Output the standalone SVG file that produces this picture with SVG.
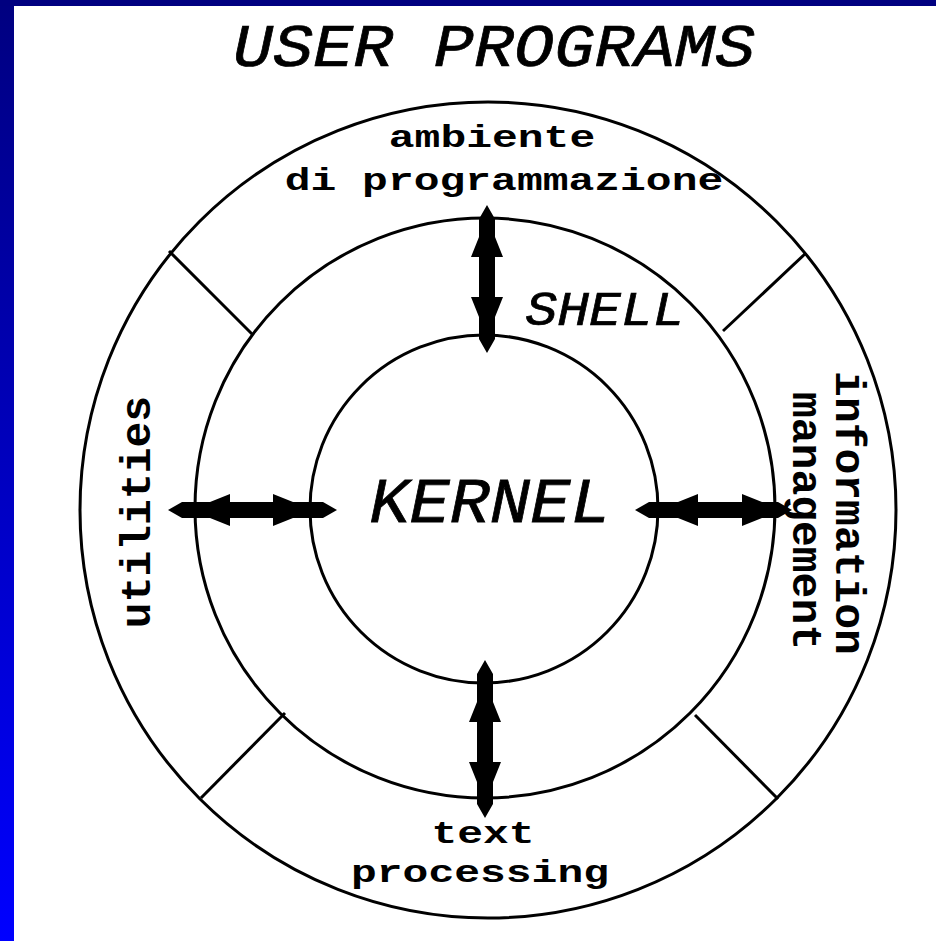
<svg xmlns="http://www.w3.org/2000/svg" width="936" height="941" viewBox="0 0 936 941">
<defs>
<linearGradient id="side" x1="0" y1="0" x2="0" y2="1">
<stop offset="0" stop-color="#000080"/>
<stop offset="1" stop-color="#0000ff"/>
</linearGradient>
</defs>
<style>
.ring{fill:none;stroke:#000;stroke-width:3}
.div{stroke:#000;stroke-width:3}
.arr{fill:#000;stroke:none}
.big{font-family:"Liberation Mono","DejaVu Sans Mono",monospace;font-style:italic;fill:#000;stroke:#000;stroke-width:0.8;text-anchor:middle}
.small{font-family:"Liberation Mono","DejaVu Sans Mono",monospace;font-weight:bold;font-size:43px;fill:#000;text-anchor:middle}
</style>
<rect x="0" y="0" width="936" height="941" fill="#fff"/>
<rect x="0" y="0" width="14" height="941" fill="url(#side)"/>
<rect x="0" y="0" width="936" height="6" fill="#000080"/>

<g id="title"><text class="big" font-size="67" transform="translate(494,66) scale(1,0.9)">USER PROGRAMS</text></g>

<g id="user-programs-ring">
<circle class="ring" cx="488" cy="510" r="408"/>
</g>
<g id="shell">
<circle class="ring" cx="485" cy="508" r="290"/>
<text class="big" font-size="53" transform="translate(605,325) scale(1,0.92)">SHELL</text>
</g>
<g id="kernel">
<circle class="ring" cx="484" cy="509" r="174"/>
<text class="big" font-size="67" transform="translate(490,522) scale(1,0.95)">KERNEL</text>
</g>

<g id="dividers">
<line class="div" x1="169" y1="251" x2="252" y2="334"/>
<line class="div" x1="806" y1="253" x2="723" y2="331"/>
<line class="div" x1="201" y1="798" x2="285" y2="713"/>
<line class="div" x1="778" y1="799" x2="695" y2="715"/>
</g>

<g id="ambiente">
<text class="small" transform="translate(492,147) scale(1,0.72)">ambiente</text>
<text class="small" transform="translate(504,190) scale(1,0.72)">di programmazione</text>
</g>
<g id="text-processing">
<text class="small" transform="translate(483,843) scale(1,0.72)">text</text>
<text class="small" transform="translate(480,882) scale(1,0.72)">processing</text>
</g>
<g id="utilities">
<text class="small" transform="translate(150,512) rotate(-90)">utilities</text>
</g>
<g id="information-management">
<text class="small" transform="translate(836,513) rotate(90)">information</text>
<text class="small" transform="translate(793,521) rotate(90)">management</text>
</g>

<g id="connectors">
<path class="arr" d="M487,205 L495,219 L495,237 L503,257 L495,257 L495,297 L503,297 L495,317 L495,339 L487,353 L479,339 L479,317 L471,297 L479,297 L479,257 L471,257 L479,237 L479,219 Z"/>
<path class="arr" d="M485,660 L493,674 L493,702 L501,722 L493,722 L493,762 L501,762 L493,782 L493,804 L485,818 L477,804 L477,782 L469,762 L477,762 L477,722 L469,722 L477,702 L477,674 Z"/>
<path class="arr" d="M168,510 L182,502 L210,502 L230,494 L230,502 L273,502 L273,494 L293,502 L323,502 L337,510 L323,518 L293,518 L273,526 L273,518 L230,518 L230,526 L210,518 L182,518 Z"/>
<path class="arr" d="M635,510 L649,502 L678,502 L698,494 L698,502 L742,502 L742,494 L762,502 L778,502 L792,510 L778,518 L762,518 L742,526 L742,518 L698,518 L698,526 L678,518 L649,518 Z"/>
</g>
</svg>
